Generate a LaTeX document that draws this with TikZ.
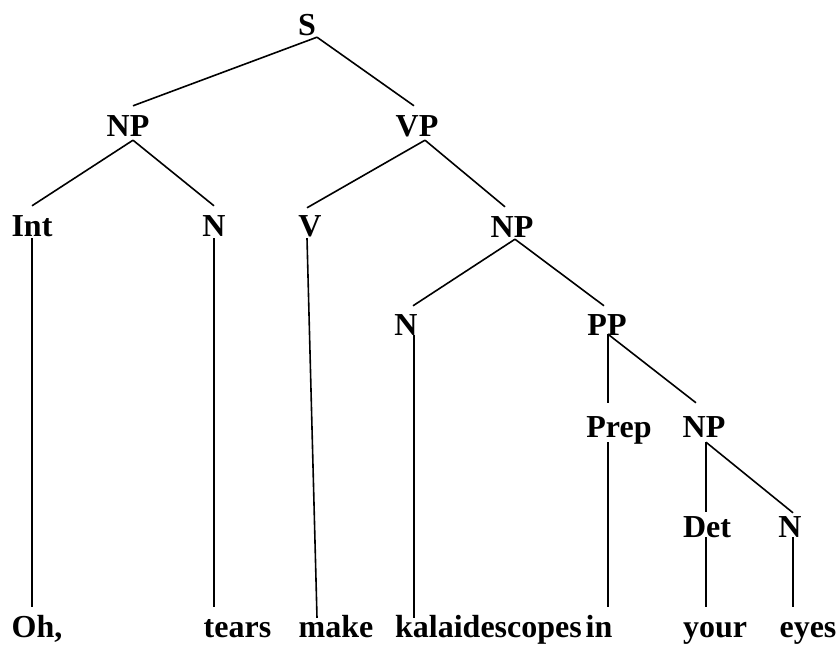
\documentclass[tikz,border=0pt]{standalone}
\usepackage{fontspec}
\setmainfont{Liberation Serif}
\usepackage{tikz}
\usetikzlibrary{positioning}

\tikzset{
  lab/.style={anchor=base, inner sep=0pt, text height=30pt, text depth=2pt},
  branch/.style={draw=black, line width=1.6pt}
}

\begin{document}
\begin{tikzpicture}[x=1pt, y=-1pt] \fontsize{32}{38}\selectfont\bfseries
    \useasboundingbox (0,0) rectangle (839,645);        % page frame
    % category labels
    \node (S)    [lab] at (307,35)  {S};
    \node (NPa)  [lab] at (128,136) {NP};
    \node (VP)   [lab] at (417,136) {VP};
    \node (Int)  [lab] at (32,236)  {Int};
    \node (Na)   [lab] at (214,236) {N};
    \node (V)    [lab] at (310,236) {V};
    \node (NPb)  [lab] at (512,237) {NP};
    \node (Nb)   [lab] at (406,335) {N};
    \node (PP)   [lab] at (607,335) {PP};
    \node (Prep) [lab] at (619,437) {Prep};
    \node (NPc)  [lab] at (704,437) {NP};
    \node (Det)  [lab] at (707,537) {Det};
    \node (Nc)   [lab] at (790,537) {N};
    % words
    \node (oh)    [lab] at (37,637)    {Oh,};
    \node (tears) [lab] at (237.5,637) {tears};
    \node (make)  [lab] at (336,637)   {make};
    \node (kal)   [lab] at (488.5,637) {kalaidescopes};
    \node (in)    [lab] at (599,637)   {in};
    \node (your)  [lab] at (715,637)   {your};
    \node (eyes)  [lab] at (808,637)   {eyes};
    % branches
    \draw [branch] ([xshift=10pt]S.south) -- ([xshift=5pt]NPa.north);
    \draw [branch] ([xshift=10pt]S.south) -- ([xshift=-3pt]VP.north);
    \draw [branch] ([xshift=5pt,yshift=-2pt]NPa.south) -- (Int.north);
    \draw [branch] ([xshift=5pt,yshift=-2pt]NPa.south) -- (Na.north);
    \draw [branch] ([xshift=8pt,yshift=-2pt]VP.south) -- ([xshift=-3pt,yshift=-2pt]V.north);
    \draw [branch] ([xshift=8pt,yshift=-2pt]VP.south) -- ([xshift=-7pt]NPb.north);
    \draw [branch] ([xshift=3pt]NPb.south) -- ([xshift=7pt,yshift=-1pt]Nb.north);
    \draw [branch] ([xshift=3pt]NPb.south) -- ([xshift=-3pt,yshift=-1pt]PP.north);
    \draw [branch] ([xshift=1pt,yshift=3pt]PP.south) -- ([xshift=-11pt,yshift=4pt]Prep.north);
    \draw [branch] ([xshift=1pt,yshift=3pt]PP.south) -- ([xshift=-8pt,yshift=4pt]NPc.north);
    \draw [branch] ([xshift=2pt,yshift=-3pt]NPc.south) -- ([xshift=-1pt,yshift=-5pt]Det.north);
    \draw [branch] ([xshift=2pt,yshift=-3pt]NPc.south) -- ([xshift=3pt,yshift=-6pt]Nc.north);
    % stems down to the words
    \draw [branch] (Int.south) -- (Int.south |- oh.north);
    \draw [branch] (Na.south) -- (Na.south |- tears.north);
    \draw [branch] ([xshift=-3pt]V.south) -- ([xshift=-19pt,yshift=-11pt]make.north);
    \draw [branch] ([xshift=8pt,yshift=2pt]Nb.south) -- ([xshift=8pt,yshift=-11pt]Nb.south |- kal.north);
    \draw [branch] ([xshift=-11pt,yshift=-3pt]Prep.south) -- ([xshift=-11pt]Prep.south |- in.north);
    \draw [branch] ([xshift=-1pt,yshift=2pt]Det.south) -- ([xshift=-1pt]Det.south |- your.north);
    \draw [branch] ([xshift=3pt,yshift=2pt]Nc.south) -- ([xshift=3pt]Nc.south |- eyes.north);
\end{tikzpicture}
\end{document}
